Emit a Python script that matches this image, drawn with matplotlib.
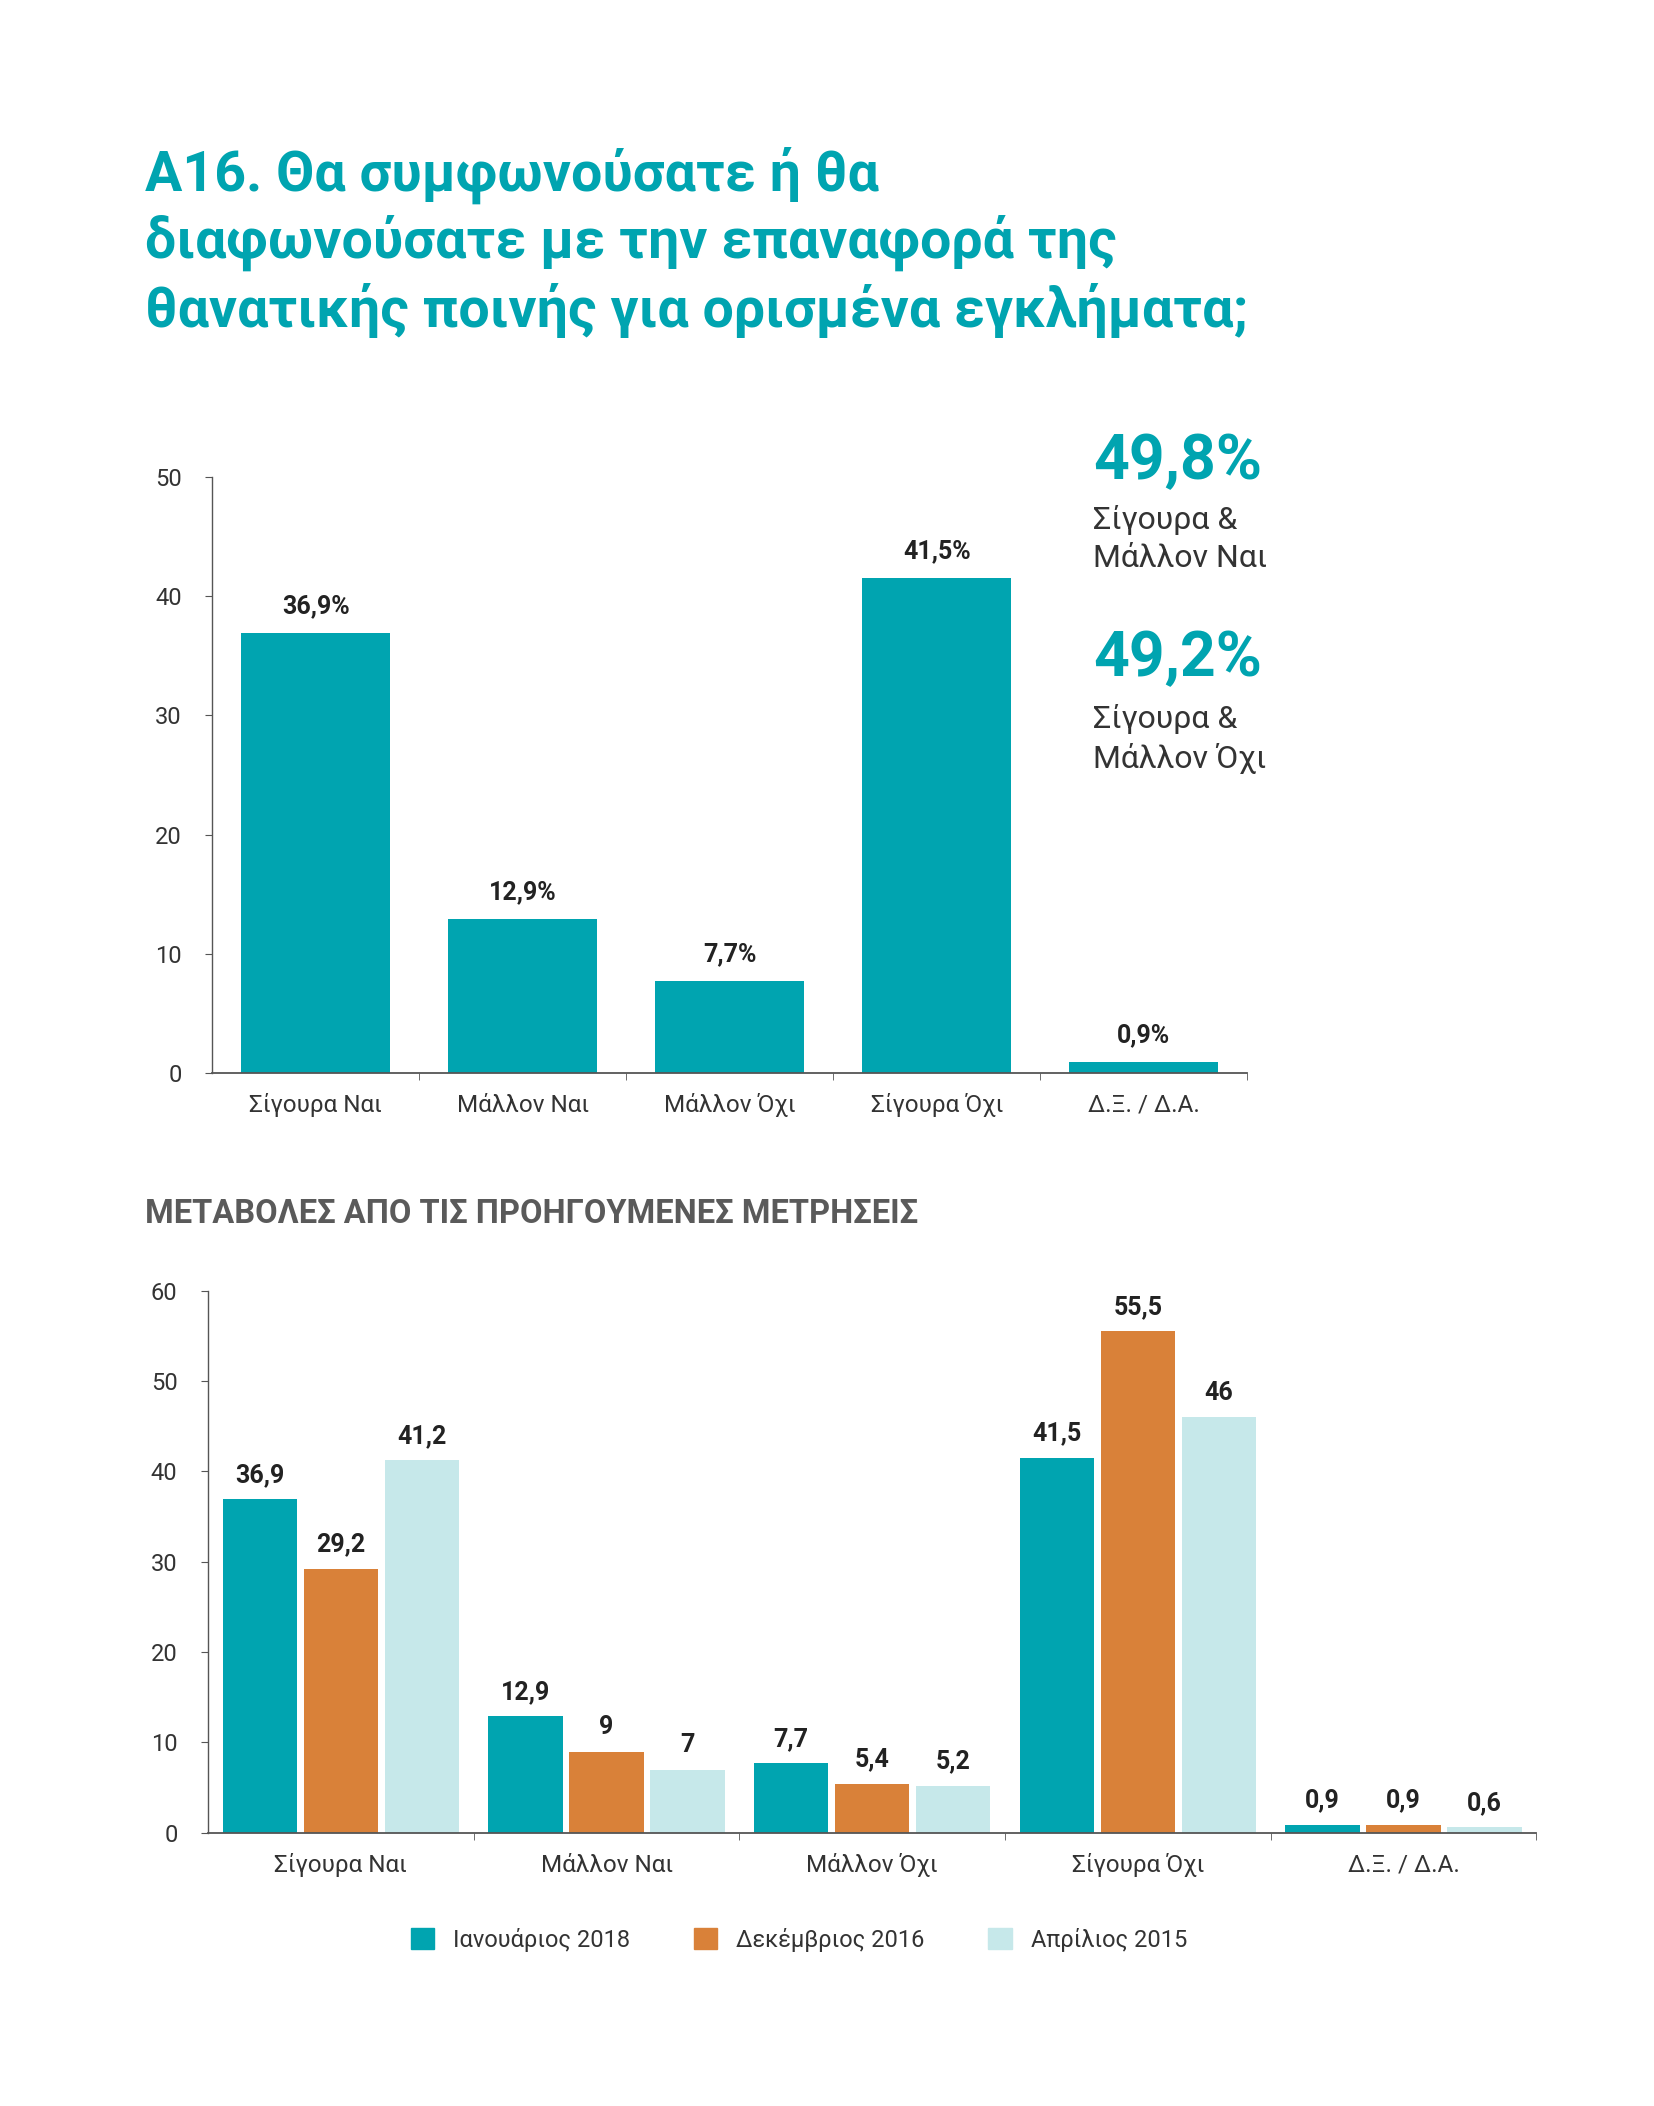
import matplotlib.pyplot as plt
import numpy as np
from matplotlib.patches import Patch

plt.rcParams['font.family'] = ['Roboto', 'DejaVu Sans']

# data
categories = ['Σίγουρα Ναι', 'Μάλλον Ναι', 'Μάλλον Όχι', 'Σίγουρα Όχι', 'Δ.Ξ. / Δ.Α.']
current = [36.9, 12.9, 7.7, 41.5, 0.9]
series_names = ['Ιανουάριος 2018', 'Δεκέμβριος 2016', 'Απρίλιος 2015']
jan_2018 = [36.9, 12.9, 7.7, 41.5, 0.9]
dec_2016 = [29.2, 9, 5.4, 55.5, 0.9]
apr_2015 = [41.2, 7, 5.2, 46, 0.6]

teal = '#00A4B0'
orange = '#D98139'
light = '#C6E8EA'
text_dark = '#222222'
axis_col = '#555555'

fig = plt.figure(figsize=(16.54, 21.06), dpi=100)

# title
title_lines = ['Α16. Θα συμφωνούσατε ή θα',
               'διαφωνούσατε με την επαναφορά της',
               'θανατικής ποινής για ορισμένα εγκλήματα;']
for i, line in enumerate(title_lines):
    fig.text(0.0874, 0.9166 - i * 0.0321, line, fontsize=40, fontweight='bold',
             color=teal, va='center', ha='left')


def style_axes(ax, ymax, step):
    ax.spines['top'].set_visible(False)
    ax.spines['right'].set_visible(False)
    ax.spines['left'].set_color(axis_col)
    ax.spines['bottom'].set_color(axis_col)
    ax.spines['left'].set_linewidth(1)
    ax.spines['bottom'].set_linewidth(1.3)
    ax.set_ylim(0, ymax)
    ax.set_xlim(-0.5, 4.5)
    ax.set_yticks(np.arange(0, ymax + 1, step))
    ax.tick_params(axis='y', length=5, color=axis_col, labelsize=17,
                   labelcolor='#333333', pad=17)
    x = np.arange(len(categories))
    ax.set_xticks(x)
    ax.set_xticklabels(categories)
    ax.tick_params(axis='x', length=0, labelsize=17.5, labelcolor='#333333', pad=28)
    for lab in ax.get_xticklabels():
        lab.set_verticalalignment('baseline')
    ax.set_xticks(np.arange(0.5, 5, 1), minor=True)
    ax.tick_params(axis='x', which='minor', length=5, color=axis_col)


# top chart
ax1 = fig.add_axes([0.1283, 0.4905, 0.6258, 0.2830])
x = np.arange(len(categories))
bars = ax1.bar(x, current, width=0.72, color=teal)
ax1.bar_label(bars, labels=[f'{v:.1f}%'.replace('.', ',') for v in current],
              padding=11, fontsize=18, fontweight='bold', color=text_dark)
style_axes(ax1, 50, 10)

# summary on the right
fig.text(0.661, 0.7805, '49,8%', fontsize=45, fontweight='bold', color=teal,
         va='center', ha='left')
fig.text(0.661, 0.7529, 'Σίγουρα &', fontsize=23, color='#333333', va='center')
fig.text(0.661, 0.7349, 'Μάλλον Ναι', fontsize=23, color='#333333', va='center')
fig.text(0.661, 0.6868, '49,2%', fontsize=45, fontweight='bold', color=teal,
         va='center', ha='left')
fig.text(0.661, 0.6585, 'Σίγουρα &', fontsize=23, color='#333333', va='center')
fig.text(0.661, 0.6399, 'Μάλλον Όχι', fontsize=23, color='#333333', va='center')

# subtitle
fig.text(0.0874, 0.4236, 'ΜΕΤΑΒΟΛΕΣ ΑΠΟ ΤΙΣ ΠΡΟΗΓΟΥΜΕΝΕΣ ΜΕΤΡΗΣΕΙΣ', fontsize=23.5,
         fontweight='bold', color='#5A5A5A', va='center')

# bottom chart
ax2 = fig.add_axes([0.1258, 0.1297, 0.8031, 0.2575])
w = 0.28
off = 0.305
series = [jan_2018, dec_2016, apr_2015]
colors = [teal, orange, light]
for k, (vals, c) in enumerate(zip(series, colors)):
    b = ax2.bar(x + (k - 1) * off, vals, width=w, color=c)
    ax2.bar_label(b, labels=[f'{v:g}'.replace('.', ',') for v in vals],
                  padding=9, fontsize=18, fontweight='bold', color=text_dark)
style_axes(ax2, 60, 10)

handles = [Patch(color=c, label=n) for c, n in zip(colors, series_names)]
fig.legend(handles=handles, loc='center', bbox_to_anchor=(0.483, 0.0790), ncol=3,
           frameon=False, fontsize=17, handlelength=1.0, handleheight=1.0,
           columnspacing=2.7, handletextpad=0.8, labelcolor='#333333')

fig.savefig('out.png', dpi=100, facecolor='white')
